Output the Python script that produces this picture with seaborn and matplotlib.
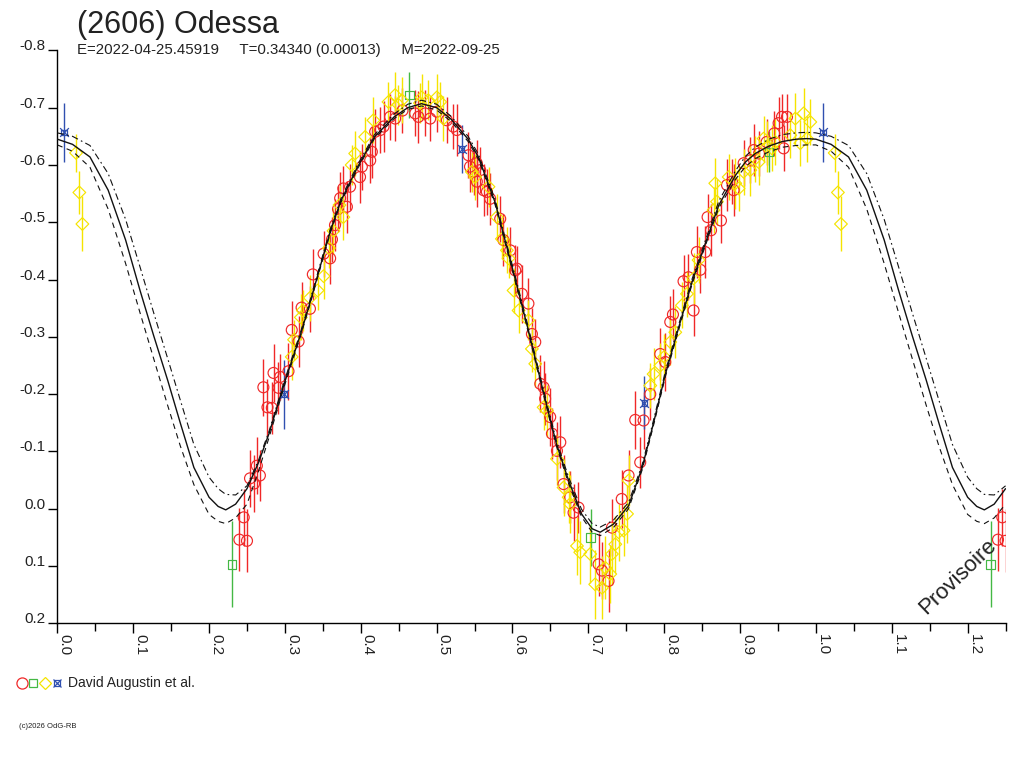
import numpy as np
import pandas as pd
import matplotlib
matplotlib.use('Agg')
import matplotlib.pyplot as plt
import seaborn as sns

# Fitted curve over one period (phase, mag)
curve_phase = [0.0, 0.02, 0.043, 0.067, 0.09, 0.109, 0.127, 0.1455, 0.162, 0.18,
               0.20, 0.212, 0.222, 0.235, 0.25, 0.265, 0.279, 0.299, 0.321, 0.334,
               0.347, 0.36, 0.374, 0.396, 0.418, 0.444, 0.462, 0.48, 0.50, 0.519,
               0.5415, 0.555, 0.577, 0.603, 0.621, 0.634, 0.647, 0.658, 0.674, 0.691,
               0.705, 0.7156, 0.733, 0.753, 0.771, 0.786, 0.8016, 0.821, 0.837, 0.855,
               0.872, 0.894, 0.907, 0.92, 0.938, 0.956, 0.974, 0.988, 1.0]
curve_mid = [-0.645, -0.636, -0.614, -0.556, -0.469, -0.381, -0.302, -0.224, -0.150, -0.072,
             -0.020, -0.004, 0.002, -0.008, -0.035, -0.080, -0.131, -0.218, -0.306, -0.364,
             -0.425, -0.485, -0.538, -0.597, -0.649, -0.684, -0.700, -0.707, -0.700, -0.680,
             -0.645, -0.614, -0.535, -0.404, -0.311, -0.240, -0.170, -0.113, -0.049, 0.009,
             0.035, 0.041, 0.027, -0.005, -0.072, -0.150, -0.235, -0.325, -0.397, -0.466,
             -0.530, -0.582, -0.605, -0.620, -0.633, -0.641, -0.645, -0.646, -0.645]
curve_upper = [-0.656, -0.650, -0.634, -0.585, -0.505, -0.422, -0.342, -0.262, -0.190, -0.112,
               -0.055, -0.035, -0.025, -0.024, -0.040, -0.084, -0.135, -0.222, -0.310, -0.368,
               -0.429, -0.489, -0.542, -0.601, -0.653, -0.689, -0.706, -0.713, -0.706, -0.685,
               -0.650, -0.619, -0.540, -0.409, -0.316, -0.245, -0.175, -0.118, -0.055, 0.001,
               0.026, 0.032, 0.020, -0.011, -0.077, -0.155, -0.240, -0.330, -0.402, -0.471,
               -0.537, -0.590, -0.615, -0.631, -0.645, -0.653, -0.656, -0.657, -0.656]
curve_lower = [-0.635, -0.624, -0.596, -0.523, -0.428, -0.342, -0.262, -0.180, -0.110, -0.042,
               0.010, 0.022, 0.026, 0.016, -0.008, -0.065, -0.124, -0.213, -0.303, -0.361,
               -0.422, -0.482, -0.535, -0.594, -0.646, -0.681, -0.697, -0.703, -0.696, -0.676,
               -0.641, -0.610, -0.531, -0.400, -0.307, -0.236, -0.166, -0.109, -0.044, 0.014,
               0.041, 0.047, 0.033, 0.000, -0.068, -0.146, -0.231, -0.321, -0.393, -0.462,
               -0.525, -0.575, -0.597, -0.611, -0.623, -0.631, -0.634, -0.635, -0.635]

# Observations (phase, mag, error) per session
red_obs = [
    (0.2400, 0.054, 0.055), (0.2457, 0.015, 0.050), (0.2500, 0.056, 0.055), (0.2540, -0.053, 0.050),
    (0.2594, -0.044, 0.050), (0.2630, -0.075, 0.050), (0.2670, -0.058, 0.045), (0.2716, -0.212, 0.050),
    (0.2770, -0.177, 0.050), (0.2827, -0.176, 0.045), (0.2850, -0.237, 0.050), (0.2915, -0.211, 0.045),
    (0.2937, -0.230, 0.040), (0.3047, -0.240, 0.050), (0.3090, -0.312, 0.050), (0.3180, -0.292, 0.045),
    (0.3220, -0.351, 0.045), (0.3330, -0.349, 0.040), (0.3368, -0.409, 0.045), (0.3510, -0.445, 0.040),
    (0.3596, -0.437, 0.045), (0.3620, -0.470, 0.040), (0.3660, -0.495, 0.045), (0.3700, -0.523, 0.040),
    (0.3728, -0.542, 0.045), (0.3770, -0.559, 0.040), (0.3817, -0.527, 0.045), (0.3859, -0.562, 0.040),
    (0.3990, -0.579, 0.045), (0.4014, -0.597, 0.040), (0.4124, -0.608, 0.040), (0.4146, -0.623, 0.045),
    (0.4190, -0.658, 0.040), (0.4256, -0.661, 0.040), (0.4300, -0.667, 0.045), (0.4387, -0.684, 0.040),
    (0.4453, -0.681, 0.040), (0.4550, -0.695, 0.040), (0.4717, -0.690, 0.040), (0.4760, -0.684, 0.045),
    (0.4849, -0.690, 0.040), (0.4915, -0.681, 0.040), (0.5003, -0.693, 0.035), (0.5135, -0.678, 0.040),
    (0.5220, -0.667, 0.040), (0.5267, -0.661, 0.045), (0.5420, -0.617, 0.040), (0.5440, -0.597, 0.045),
    (0.5486, -0.588, 0.040), (0.5530, -0.571, 0.045), (0.5530, -0.603, 0.040), (0.5574, -0.591, 0.040),
    (0.5618, -0.556, 0.045), (0.5663, -0.553, 0.040), (0.5706, -0.541, 0.045), (0.5838, -0.506, 0.040),
    (0.5880, -0.469, 0.045), (0.5970, -0.451, 0.040), (0.6036, -0.416, 0.045), (0.6058, -0.419, 0.040),
    (0.6124, -0.375, 0.050), (0.6210, -0.358, 0.045), (0.6256, -0.305, 0.045), (0.6300, -0.291, 0.040),
    (0.6366, -0.218, 0.050), (0.6410, -0.212, 0.045), (0.6430, -0.192, 0.045), (0.6497, -0.160, 0.050),
    (0.6520, -0.131, 0.045), (0.6586, -0.101, 0.050), (0.6630, -0.116, 0.045), (0.6673, -0.043, 0.050),
    (0.6760, -0.020, 0.045), (0.6805, 0.007, 0.050), (0.6870, -0.002, 0.045), (0.7135, 0.097, 0.055),
    (0.7180, 0.108, 0.050), (0.7266, 0.126, 0.055), (0.7311, 0.033, 0.050), (0.7440, -0.017, 0.050),
    (0.7530, -0.058, 0.045), (0.7618, -0.155, 0.050), (0.7684, -0.081, 0.045), (0.7728, -0.154, 0.050),
    (0.7816, -0.200, 0.045), (0.7948, -0.270, 0.045), (0.8014, -0.256, 0.050), (0.8080, -0.326, 0.045),
    (0.8115, -0.339, 0.045), (0.8255, -0.397, 0.045), (0.8320, -0.404, 0.040), (0.8387, -0.346, 0.045),
    (0.8431, -0.448, 0.045), (0.8475, -0.417, 0.040), (0.8541, -0.448, 0.045), (0.8572, -0.509, 0.040),
    (0.8617, -0.486, 0.045), (0.8748, -0.503, 0.040), (0.8828, -0.565, 0.045), (0.8893, -0.571, 0.040),
    (0.8915, -0.556, 0.045), (0.9047, -0.603, 0.040), (0.9135, -0.608, 0.040), (0.9180, -0.626, 0.045),
    (0.9250, -0.620, 0.040), (0.9350, -0.640, 0.040), (0.9450, -0.655, 0.040), (0.9508, -0.673, 0.045),
    (0.9553, -0.684, 0.040), (0.9575, -0.629, 0.040), (0.9619, -0.684, 0.040),
]
yellow_obs = [
    (0.0247, -0.621, 0.033), (0.0290, -0.552, 0.038), (0.0330, -0.497, 0.048),
    (0.3090, -0.265, 0.040), (0.3120, -0.295, 0.035), (0.3210, -0.334, 0.040), (0.3236, -0.346, 0.035),
    (0.3330, -0.368, 0.040), (0.3430, -0.381, 0.035), (0.3510, -0.406, 0.040), (0.3580, -0.455, 0.035),
    (0.3640, -0.485, 0.040), (0.3720, -0.530, 0.035), (0.3770, -0.509, 0.040), (0.3880, -0.600, 0.035),
    (0.3926, -0.620, 0.040), (0.4058, -0.649, 0.035), (0.4167, -0.678, 0.040), (0.4365, -0.710, 0.035),
    (0.4453, -0.722, 0.040), (0.4497, -0.705, 0.035), (0.4542, -0.713, 0.040), (0.4780, -0.708, 0.035),
    (0.4805, -0.718, 0.040), (0.4890, -0.713, 0.035), (0.5003, -0.718, 0.040), (0.5047, -0.710, 0.035),
    (0.5090, -0.681, 0.040), (0.5464, -0.588, 0.035), (0.5508, -0.579, 0.040), (0.5684, -0.562, 0.035),
    (0.5794, -0.509, 0.040), (0.5860, -0.471, 0.035), (0.5926, -0.451, 0.040), (0.5948, -0.437, 0.035),
    (0.6014, -0.381, 0.040), (0.6080, -0.346, 0.040), (0.6210, -0.329, 0.035), (0.6256, -0.279, 0.040),
    (0.6300, -0.253, 0.040), (0.6410, -0.177, 0.040), (0.6454, -0.171, 0.045), (0.6586, -0.087, 0.045),
    (0.6673, -0.037, 0.050), (0.6740, -0.020, 0.045), (0.6760, -0.008, 0.050), (0.6850, 0.065, 0.050),
    (0.6893, 0.076, 0.055), (0.7025, 0.079, 0.050), (0.7090, 0.132, 0.060), (0.7180, 0.138, 0.055),
    (0.7223, 0.103, 0.055), (0.7289, 0.114, 0.050), (0.7311, 0.079, 0.055), (0.7355, 0.062, 0.050),
    (0.7398, 0.041, 0.050), (0.7464, 0.038, 0.045), (0.7510, 0.009, 0.050), (0.7530, -0.049, 0.045),
    (0.7816, -0.215, 0.040), (0.7860, -0.235, 0.045), (0.7950, -0.250, 0.040), (0.8000, -0.265, 0.040),
    (0.8080, -0.291, 0.040), (0.8146, -0.308, 0.045), (0.8234, -0.355, 0.040), (0.8300, -0.375, 0.040),
    (0.8387, -0.402, 0.045), (0.8453, -0.434, 0.040), (0.8650, -0.521, 0.040), (0.8673, -0.568, 0.045),
    (0.8696, -0.536, 0.040), (0.8850, -0.579, 0.040), (0.8937, -0.568, 0.045), (0.8981, -0.559, 0.040),
    (0.9047, -0.588, 0.040), (0.9135, -0.591, 0.045), (0.9200, -0.611, 0.040), (0.9245, -0.605, 0.040),
    (0.9310, -0.646, 0.040), (0.9355, -0.632, 0.045), (0.9420, -0.629, 0.040), (0.9465, -0.640, 0.040),
    (0.9662, -0.652, 0.040), (0.9728, -0.681, 0.045), (0.9794, -0.638, 0.040), (0.9838, -0.690, 0.045),
    (0.9882, -0.646, 0.040), (0.9926, -0.675, 0.040),
]
green_obs = [(0.2304, 0.097, 0.075), (0.4640, -0.722, 0.040), (0.7030, 0.050, 0.050), (0.9380, -0.623, 0.036)]
blue_obs = [(0.0090, -0.657, 0.052), (0.2990, -0.200, 0.060), (0.5330, -0.628, 0.042), (0.7740, -0.185, 0.046)]

y_ticks = [-0.8, -0.7, -0.6, -0.5, -0.4, -0.3, -0.2, -0.1, 0.0, 0.1, 0.2]
y_labels = ['-0.8', '-0.7', '-0.6', '-0.5', '-0.4', '-0.3', '-0.2', '-0.1', '0.0', '0.1', '0.2']
x_ticks = [0.0, 0.1, 0.2, 0.3, 0.4, 0.5, 0.6, 0.7, 0.8, 0.9, 1.0, 1.1, 1.2]
x_labels = ['0.0', '0.1', '0.2', '0.3', '0.4', '0.5', '0.6', '0.7', '0.8', '0.9', '1.0', '1.1', '1.2']

XMAX = 1.25

sns.set_style('white')
plt.rcParams['font.family'] = ['Liberation Sans', 'DejaVu Sans']


def wrap(obs):
    """Fold observations: points near phase 0 are repeated one period later."""
    df = pd.DataFrame(obs, columns=['phase', 'mag', 'err'])
    extra = df[df['phase'] + 1 <= XMAX].copy()
    extra['phase'] += 1
    return pd.concat([df, extra], ignore_index=True)


# curve repeated beyond phase 1
cp = np.array(curve_phase)
full_phase = np.concatenate([cp, cp[1:] + 1])
keep = full_phase <= XMAX + 0.01


def full(vals):
    v = np.array(vals)
    return np.concatenate([v, v[1:]])[keep]


fig = plt.figure(figsize=(10.24, 7.68), dpi=100)
ax = fig.add_axes([0.056, 0.1884, 0.9260, 0.7460])

# observations
series = [
    (red_obs, '#f02828', 'o', 62),
    (green_obs, '#44b844', 's', 38),
    (yellow_obs, '#f5e400', 'D', 42),
]
for obs, col, mk, size in series:
    d = wrap(obs)
    ax.errorbar(d['phase'], d['mag'], yerr=d['err'], fmt='none', ecolor=col,
                elinewidth=1.0, capsize=0, zorder=2)
    sns.scatterplot(x=d['phase'], y=d['mag'], ax=ax, marker=mk, s=size,
                    facecolor='none', edgecolor=col, linewidth=0.85, zorder=3, legend=False)

d = wrap(blue_obs)
ax.errorbar(d['phase'], d['mag'], yerr=d['err'], fmt='none', ecolor='#3050b0',
            elinewidth=1.0, capsize=0, zorder=2)
sns.scatterplot(x=d['phase'], y=d['mag'], ax=ax, marker='s', s=16, facecolor='none',
                edgecolor='#3050b0', linewidth=0.9, zorder=3, legend=False)
sns.scatterplot(x=d['phase'], y=d['mag'], ax=ax, marker='x', s=40, color='#3050b0',
                linewidth=0.9, zorder=3, legend=False)

# fit and its envelope
fp = full_phase[keep]
sns.lineplot(x=fp, y=full(curve_mid), ax=ax, sort=False, estimator=None,
             color='#111111', lw=1.0, zorder=4)
sns.lineplot(x=fp, y=full(curve_upper), ax=ax, sort=False, estimator=None,
             color='#111111', lw=0.8, linestyle=(0, (6, 3, 1.5, 3)), zorder=4)
sns.lineplot(x=fp, y=full(curve_lower), ax=ax, sort=False, estimator=None,
             color='#111111', lw=0.8, linestyle=(0, (5, 4)), zorder=4)

ax.set_xlim(0, XMAX)
ax.set_ylim(0.2, -0.8)
ax.set_xlabel('')
ax.set_ylabel('')
for side in ['top', 'right']:
    ax.spines[side].set_visible(False)
for side in ['left', 'bottom']:
    ax.spines[side].set_color('black')
    ax.spines[side].set_linewidth(1.0)

ax.set_yticks(y_ticks)
ax.set_yticklabels(y_labels, fontsize=11, color='#222222')
for lab in ax.get_yticklabels():
    lab.set_va('baseline')
ax.set_xticks(x_ticks)
ax.set_xticklabels(x_labels, fontsize=11, color='#222222', rotation=-90, ha='left', va='top')
ax.set_xticks(np.arange(0.05, XMAX + 0.01, 0.1), minor=True)
ax.tick_params(axis='y', direction='out', length=6.5, width=1, pad=2, left=True, color='black')
ax.tick_params(axis='x', which='major', direction='out', length=7, width=1, pad=1, bottom=True, color='black')
ax.tick_params(axis='x', which='minor', direction='out', length=6, width=1, bottom=True, color='black')

ax.text(1.1865, 0.119, 'Provisoire', fontsize=16, rotation=44, ha='center', va='center',
        rotation_mode='anchor', color='#222222')

# header
fig.text(0.0752, 0.9566, '(2606) Odessa', fontsize=22, color='#222222', va='baseline')
fig.text(0.0752, 0.9297, 'E=2022-04-25.45919     T=0.34340 (0.00013)     M=2022-09-25',
         fontsize=10.8, color='#222222', va='baseline')

# session key
key = [('#f02828', 'o', 8), ('#44b844', 's', 6), ('#f5e400', 'D', 6.5), ('#3050b0', 's', 4)]
for i, (col, mk, ms) in enumerate(key):
    xk = [0.0212, 0.0325, 0.0439, 0.0554][i]
    ax.plot([xk], [0.111], marker=mk, ms=ms, mfc='none', mec=col, mew=0.9,
            transform=fig.transFigure, clip_on=False, ls='none')
ax.plot([0.0554], [0.111], marker='x', ms=6, mec='#3050b0', mew=0.9,
        transform=fig.transFigure, clip_on=False, ls='none')
fig.text(0.0661, 0.1055, 'David Augustin et al.', fontsize=10, color='#222222', va='baseline')
fig.text(0.0186, 0.052, '(c)2026 OdG-RB', fontsize=5.5, color='#222222', va='baseline')

fig.savefig('out.png', dpi=100)
